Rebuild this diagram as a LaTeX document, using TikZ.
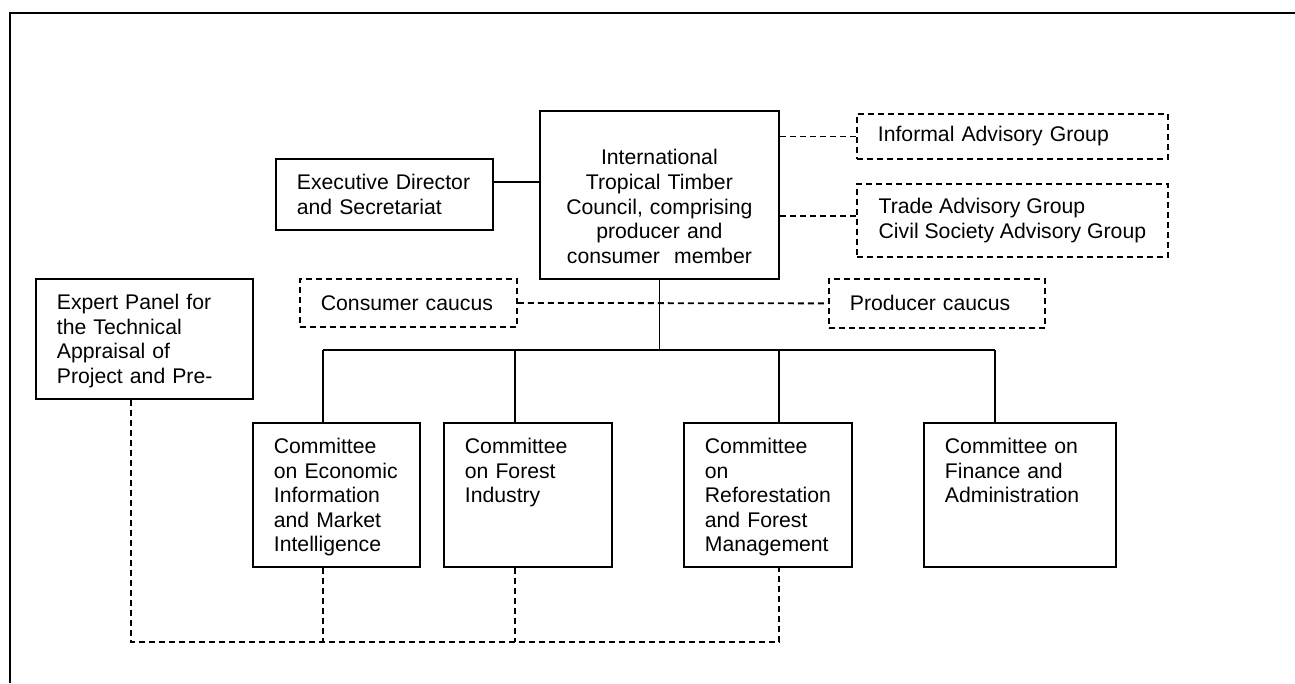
\documentclass[tikz,border=0pt]{standalone}
\usepackage{fontspec}
\setmainfont{Liberation Sans}
\usepackage{tikz}
\usetikzlibrary{positioning,calc}

\begin{document}
\begin{tikzpicture}[x=1pt,y=-1pt,
		font=\fontsize{21.2}{24.6}\selectfont,
		org_box/.style={draw,line width=1.8pt,inner xsep=21pt,inner ysep=0pt,anchor=north west,align=left},
		top_box/.style={org_box,text height=30.5pt},
		adv_box/.style={org_box,dash pattern=on 6pt off 4pt},
		adv_line/.style={line width=1.8pt,dash pattern=on 6pt off 4pt},
		org_line/.style={line width=1.8pt}]
				\useasboundingbox (0,0) rectangle (1295,683);
				\draw[line width=2.2pt] (10,683) -- (10,12.7) -- (1295,12.7);
				% council and advisory groups
				\node[org_box,minimum width=217pt,text width=175pt,minimum height=71pt](exec) at (275,158){Executive Director\\and Secretariat};
				\node[org_box,minimum width=239pt,text width=197pt,align=center,text height=54pt,text depth=114pt](council) at (539,110){International\\Tropical Timber\\Council, comprising\\producer and\\consumer\ \ member};
				\node[adv_box,minimum width=311pt,text width=269pt,minimum height=45pt](informal) at (856,113){Informal Advisory Group};
				\node[adv_box,minimum width=311pt,minimum height=73pt](trade) at (856,183){Trade Advisory Group\\Civil Society Advisory Group};
				\node[adv_box,minimum width=217pt,text width=175pt,minimum height=48pt](consumer) at (299,278){Consumer caucus};
				\node[adv_box,minimum width=216pt,text width=174pt,minimum height=49pt](producer) at (828,278){Producer caucus};
				% expert panel and committees
				\node[top_box,minimum width=217pt,text width=175pt,text depth=89.5pt](expert) at (35,278){Expert Panel for\\the Technical\\Appraisal of\\Project and Pre-};
				\node[top_box,minimum width=167pt,text width=125pt,text depth=113.5pt](cem) at (252,422){Committee\\on Economic\\Information\\and Market\\Intelligence};
				\node[top_box,minimum width=168pt,text width=126pt,text depth=113.5pt](cfi) at (443,422){Committee\\on Forest\\Industry};
				\node[top_box,minimum width=168pt,text width=126pt,text depth=113.5pt](crf) at (683,422){Committee\\on\\Reforestation\\and Forest\\Management};
				\node[top_box,minimum width=192pt,text width=150pt,text depth=113.5pt](cfa) at (923,422){Committee on\\Finance and\\Administration};
				\coordinate (d1) at (323,350);
				\coordinate (d2) at (515,350);
				\coordinate (d3) at (779,350);
				\coordinate (d4) at (995,350);
				\coordinate (j0) at (131,642);
				\path[org_line]
				([yshift=12.5pt]exec.east) edge ([yshift=12.5pt]exec.east -| council.west)
				(council.south) edge (council.south |- d1)
				(d1) edge (d4)
				(d1) edge (d1 |- cem.north)
				(d2) edge (d2 |- cfi.north)
				(d3) edge (d3 |- crf.north)
				(d4) edge (d4 |- cfa.north);
				\path[adv_line]
				(informal.west -| council.east) edge (informal.west)
				([yshift=4.5pt]trade.west -| council.east) edge ([yshift=4.5pt]trade.west)
				(consumer.east) edge (producer.west)
				(d1 |- cem.south) edge (d1 |- j0)
				(d2 |- cfi.south) edge (d2 |- j0);
				\draw[adv_line] (j0 |- expert.south) -- (j0) -| (d3 |- crf.south);
			\end{tikzpicture}
\end{document}
